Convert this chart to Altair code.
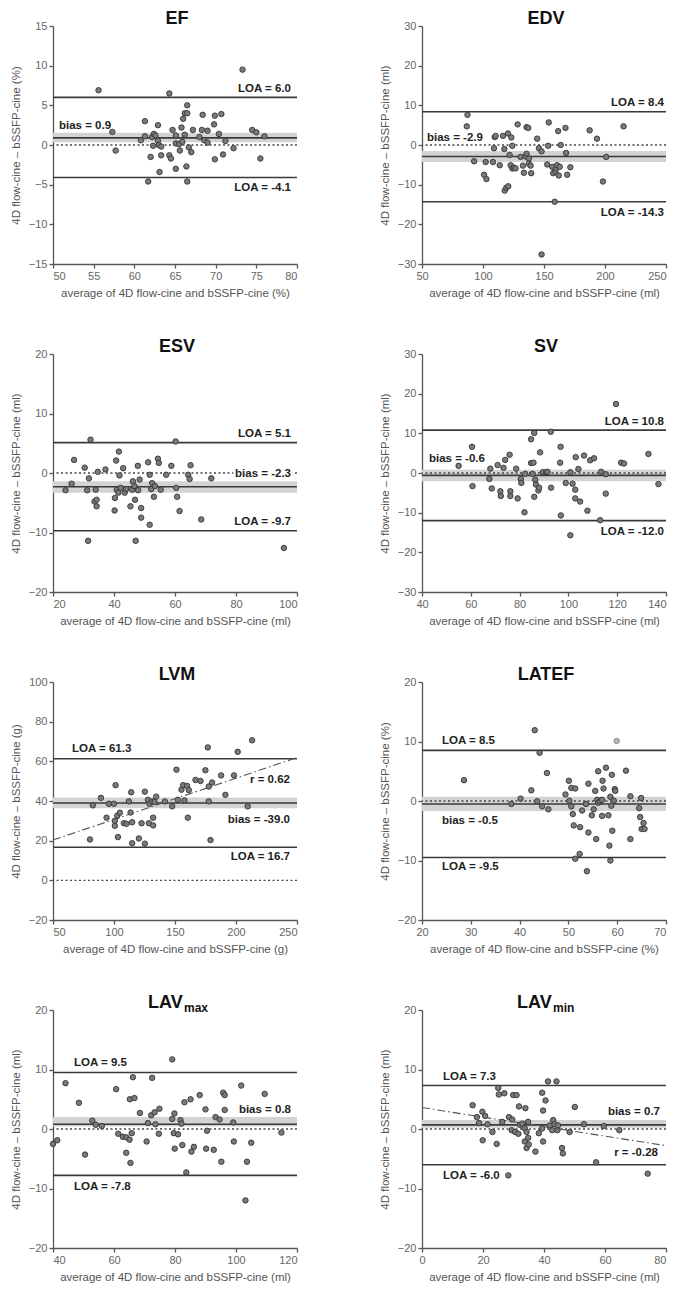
import altair as alt
import pandas as pd

FONT = "Liberation Sans"
W, H = 244, 238

# ---------------- data ----------------
EF_X = [55.6,57.3,57.7,60.8,61.3,61.3,61.7,62.0,62.2,62.4,62.3,62.6,62.9,62.9,63.0,63.1,63.3,63.3,64.3,64.3,
        64.5,64.7,65.1,65.1,65.1,65.5,65.6,65.8,65.9,66.0,66.2,66.2,66.4,66.5,66.5,66.5,66.7,67.0,67.2,68.0,
        68.3,68.4,68.6,69.0,69.0,69.8,69.9,69.9,70.4,70.7,70.9,71.2,72.2,73.3,74.5,75.0,75.5,76.0]
EF_Y = [6.9,1.65,-0.7,0.6,3.0,1.1,-4.6,-1.5,1.0,1.4,-0.1,1.2,2.5,0.55,0.0,-3.4,-1.3,-0.2,6.5,-1.3,
        -1.7,1.9,1.2,0.2,-3.0,0.1,-0.7,2.2,0.4,3.3,4.0,1.3,-2.7,5.0,4.0,-4.6,-0.3,-0.9,1.9,1.0,
        1.9,3.8,0.6,1.8,0.3,2.6,-1.8,3.7,1.4,3.9,-1.2,0.5,-0.4,9.5,1.9,1.6,-1.7,1.1]

EDV_X = [87.3,86.7,92.7,100.9,102.2,102.8,108.2,109.0,109.6,110.4,113.7,116.4,117.5,117.8,119.1,120.5,120.7,121.8,122.7,123.2,
         124.0,124.0,125.4,126.7,128.4,130.8,132.7,133.5,134.9,135.7,135.7,137.1,137.6,137.6,139.0,139.5,144.4,145.8,148.0,148.0,
         152.6,153.4,153.9,156.7,157.5,158.8,159.4,159.9,160.7,161.6,162.1,162.9,163.7,167.6,168.1,169.0,171.6,187.4,193.4,198.3,
         201.0,215.2]
EDV_Y = [7.6,4.7,-4.1,-7.5,-4.3,-8.6,-4.3,-0.8,2.0,2.3,-5.1,2.3,-1.0,-11.5,-10.8,2.9,-10.4,-2.5,-5.1,1.9,
         -0.2,-5.9,-5.7,-5.9,5.2,-3.0,-5.2,-7.0,-2.9,-2.2,4.5,4.3,-3.4,-4.7,-5.2,-7.1,1.6,-0.8,-1.6,-27.6,
         -4.9,-0.2,5.7,-5.5,-7.1,-14.3,-6.7,-5.9,-5.1,3.5,-7.7,-5.5,0.0,4.3,-2.0,-7.5,-5.6,3.7,1.6,-9.2,
         -3.0,4.7]

ESV_X = [24.1,26.1,26.9,30.4,31.2,31.5,31.8,32.3,33.6,34.0,34.3,34.3,34.7,37.2,40.2,40.3,40.7,40.9,41.4,41.6,
         41.8,42.2,43.0,43.5,44.0,45.4,46.0,46.2,46.7,46.9,47.1,47.8,47.9,48.4,48.9,48.9,51.2,51.7,51.7,52.2,
         52.5,53.1,53.4,54.4,54.7,55.3,57.1,58.8,60.2,60.4,60.7,61.5,64.3,64.8,65.1,68.6,71.9,95.7]
ESV_Y = [-2.9,-1.8,2.2,0.9,-2.9,-11.4,-0.9,5.6,-4.8,-2.8,-4.5,-5.6,0.2,0.6,-6.3,-4.2,2.1,-2.8,-3.3,3.6,
         -0.4,-2.5,0.8,-3.3,-2.7,-5.6,-2.8,-1.4,-2.2,-4.5,-11.4,1.2,-2.9,-1.1,-5.9,-7.5,1.8,-0.3,-8.7,-2.7,
         -1.7,-4.0,-2.2,2.4,1.7,-2.8,-0.3,1.2,5.3,-2.5,-4.0,-6.4,-0.3,-1.0,1.3,-7.8,-0.9,-12.6]

SV_X = [55.0,60.5,60.7,67.6,68.0,68.6,71.0,72.1,72.3,73.4,74.1,75.9,76.2,76.2,78.6,79.2,80.5,80.7,82.0,82.3,
        84.7,84.7,85.3,85.7,86.0,86.0,86.4,86.7,87.7,88.0,88.4,89.5,90.9,91.4,92.8,92.9,96.8,96.6,96.9,98.9,
        100.8,100.8,101.7,102.8,102.8,103.0,104.1,104.8,106.4,107.8,108.9,110.5,113.0,113.4,115.3,115.3,119.5,121.6,122.8,132.8,
        136.9]
SV_Y = [1.8,6.6,-3.3,-1.5,1.1,-3.9,2.0,-4.6,-5.8,1.3,3.3,4.6,-4.6,-5.8,1.1,-6.4,-1.5,-2.5,-9.9,-0.2,
        8.5,2.5,-0.2,2.6,10.1,-6.0,-1.7,-2.9,-4.4,-3.7,5.2,0.2,0.2,0.3,10.4,-3.7,6.6,2.6,-10.7,-2.5,
        0.2,-15.7,-2.7,-4.2,-6.4,4.0,1.0,-7.2,4.4,-9.5,3.2,3.7,-11.9,0.3,-0.3,-5.2,17.4,2.6,2.4,4.8,
        -2.8]

LVM_X = [80.3,82.7,89.3,93.9,95.8,99.9,100.7,101.3,100.7,102.7,103.2,104.8,108.1,110.3,112.2,113.6,114.1,114.9,114.9,120.4,
         122.6,125.3,125.3,127.8,128.6,129.1,131.3,132.1,132.1,133.2,134.6,141.7,147.7,151.2,152.3,155.3,156.7,157.8,159.9,160.5,
         161.3,166.8,170.9,174.9,176.9,177.7,177.7,179.1,180.4,187.8,191.3,198.4,201.4,209.6,213.2]
LVM_Y = [20.6,37.8,41.6,31.6,38.6,38.6,27.5,48.0,30.0,32.6,21.8,34.1,28.8,28.5,39.8,34.2,44.4,29.3,18.7,21.1,
         28.8,44.7,18.5,40.6,28.8,38.6,39.8,31.6,27.7,39.5,42.2,39.8,37.3,55.8,40.6,45.7,48.0,40.3,47.6,31.6,
         45.5,50.6,50.1,55.5,67.0,39.8,47.3,20.3,49.3,52.9,43.1,52.9,64.8,37.3,70.6]
LVM_REG_X = [50, 250]
LVM_REG_Y = [20.3, 61.9]

LATEF_X = [28.6,38.3,40.2,42.4,43.1,43.6,44.1,44.6,45.6,45.9,49.4,50.1,50.2,50.6,50.6,50.9,51.4,51.1,51.4,52.3,
           52.4,52.8,53.6,53.8,54.1,54.1,54.8,55.2,55.7,55.5,55.9,56.1,56.1,56.5,56.9,56.9,57.0,57.2,57.7,58.2,
           58.4,58.6,58.6,58.8,58.9,59.0,59.3,59.5,59.6,61.8,62.7,62.7,64.5,64.7,64.9,65.0,65.4,65.6]
LATEF_Y = [3.5,-0.5,0.4,1.8,11.9,-0.05,8.1,-0.9,4.7,-1.4,1.1,3.4,0.05,-0.9,2.2,-2.2,2.1,-4.1,-9.7,-8.9,
           -4.4,-1.6,-0.5,-11.8,-5.3,2.9,-2.4,-1.4,-6.4,1.7,0.2,5.0,-0.3,-0.05,0.2,-2.5,3.4,2.1,5.6,-2.4,
           -7.5,0.7,-10.0,-0.8,4.4,-5.0,0.05,2.0,1.7,5.1,0.8,-6.4,-1.2,-2.7,0.5,-4.7,-3.7,-4.7]
LATEF_LIGHT_X = [59.9]
LATEF_LIGHT_Y = [10.1]

LAVMAX_X = [40.0,41.4,44.1,48.5,50.5,52.9,54.0,56.0,60.7,61.4,62.9,64.0,64.0,65.1,65.2,65.4,65.8,66.2,66.7,68.5,
            70.7,71.1,72.2,72.5,73.3,73.6,74.7,74.9,79.1,79.1,79.6,79.8,79.9,81.0,81.8,82.1,82.4,83.1,83.7,85.1,
            85.4,86.2,88.1,90.0,90.2,90.5,92.7,93.3,94.6,95.2,95.8,96.3,96.3,99.1,99.3,101.7,103.6,103.1,105.0,109.4,
            114.9]
LAVMAX_Y = [-2.5,-1.9,7.7,4.4,-4.3,1.4,0.7,0.5,6.7,-0.8,-1.3,-4.0,-1.4,-1.8,5.0,-5.7,-0.7,8.7,5.2,2.7,
            -2.1,1.0,2.3,8.6,2.8,0.8,-0.8,3.4,11.7,1.7,-0.7,2.6,-3.3,-0.9,1.5,0.9,-2.7,4.5,-7.3,5.0,
            -3.8,-3.0,5.7,3.3,-3.3,-0.3,-3.5,2.0,1.6,-5.5,6.1,5.7,3.2,1.1,-2.1,7.3,-5.5,-12.0,-2.3,5.9,
            -0.6]

LAVMIN_X = [16.6,18.0,18.7,19.8,20.7,21.5,23.1,19.9,24.5,25.0,25.2,27.0,26.3,28.5,29.9,31.0,29.6,29.4,30.5,31.6,
            32.1,31.8,33.9,32.9,33.7,34.3,34.8,33.7,34.8,34.3,35.0,37.2,39.4,40.5,39.7,39.4,38.3,39.7,41.3,44.1,
            41.9,43.0,43.5,44.4,42.7,44.6,45.9,46.2,48.4,50.1,53.1,57.1,59.6,64.7,74.0,28.3]
LAVMIN_Y = [4.0,2.0,1.0,2.9,2.2,0.8,-0.5,-1.9,-2.5,6.9,5.8,6.0,1.2,2.0,5.7,5.7,1.6,-0.2,-0.5,-0.8,
            0.7,3.8,3.5,0.9,0.1,-0.5,1.2,-2.1,-1.5,-3.2,-2.6,-3.8,6.1,4.8,3.1,0.1,-0.7,-2.1,8.0,8.0,
            0.6,1.5,0.8,-0.2,-0.2,0.6,-3.2,-4.1,-0.5,3.7,0.8,-5.6,0.5,-0.2,-7.5,-7.8]
LAVMIN_REG_X = [0, 80]
LAVMIN_REG_Y = [3.6, -2.8]

# statistics: bias, CI band (lo, hi), upper LOA, lower LOA
EF_STATS = [0.9, 0.35, 1.55, 6.0, -4.1]
EDV_STATS = [-2.9, -4.3, -1.5, 8.4, -14.3]
ESV_STATS = [-2.3, -3.3, -1.4, 5.1, -9.7]
SV_STATS = [-0.6, -2.1, 0.8, 10.8, -12.0]
LVM_STATS = [39.0, 36.3, 41.8, 61.3, 16.7]
LATEF_STATS = [-0.5, -1.7, 0.7, 8.5, -9.5]
LAVMAX_STATS = [0.8, 0.4, 2.0, 9.5, -7.8]
LAVMIN_STATS = [0.7, 0.2, 1.5, 7.3, -6.0]

# tick values
EF_XT = [50, 55, 60, 65, 70, 75, 80];      EF_YT = [-15, -10, -5, 0, 5, 10, 15]
EDV_XT = [50, 100, 150, 200, 250];         EDV_YT = [-30, -20, -10, 0, 10, 20, 30]
ESV_XT = [20, 40, 60, 80, 100];            ESV_YT = [-20, -10, 0, 10, 20]
SV_XT = [40, 60, 80, 100, 120, 140];       SV_YT = [-30, -20, -10, 0, 10, 20, 30]
LVM_XT = [50, 100, 150, 200, 250];         LVM_YT = [-20, 0, 20, 40, 60, 80, 100]
LATEF_XT = [20, 30, 40, 50, 60, 70];       LATEF_YT = [-20, -10, 0, 10, 20]
LAVMAX_XT = [40, 60, 80, 100, 120];        LAVMAX_YT = [-20, -10, 0, 10, 20]
LAVMIN_XT = [0, 20, 40, 60, 80];           LAVMIN_YT = [-20, -10, 0, 10, 20]

# annotation texts
EF_LABELS = ["LOA = 6.0", "LOA = -4.1", "bias = 0.9"]
EDV_LABELS = ["LOA = 8.4", "LOA = -14.3", "bias = -2.9"]
ESV_LABELS = ["LOA = 5.1", "bias = -2.3", "LOA = -9.7"]
SV_LABELS = ["LOA = 10.8", "LOA = -12.0", "bias = -0.6"]
LVM_LABELS = ["LOA = 61.3", "r = 0.62", "bias = -39.0", "LOA = 16.7"]
LATEF_LABELS = ["LOA = 8.5", "bias = -0.5", "LOA = -9.5"]
LAVMAX_LABELS = ["LOA = 9.5", "bias = 0.8", "LOA = -7.8"]
LAVMIN_LABELS = ["LOA = 7.3", "bias = 0.7", "r = -0.28", "LOA = -6.0"]

# label placement (side, anchor line index into stats: 0 bias, 3 upper, 4 lower, dy, dx, halo)
EF_POS = [("right", 3, -8, -6, False), ("right", 4, 10, -6, False), ("left", 0, -12, 6, False)]
EDV_POS = [("right", 3, -9, -2, False), ("right", 4, 11, -2, False), ("left", 0, -19, 5, False)]
ESV_POS = [("right", 3, -9, -6, False), ("right", 0, -13, -6, True), ("right", 4, -9, -6, False)]
SV_POS = [("right", 3, -8, -2, False), ("right", 4, 11, -2, False), ("left", 0, -16, 7, False)]
LVM_POS = [("left", 3, -10, 19, False), ("right", 0, -23, -7, False), ("right", 0, 17, -7, False),
           ("right", 4, 10, -7, False)]
LATEF_POS = [("left", 3, -9, 20, False), ("left", 0, 17, 20, False), ("left", 4, 9, 20, False)]
LAVMAX_POS = [("left", 3, -9, 21, False), ("right", 0, -14, -6, False), ("left", 4, 12, 21, False)]
LAVMIN_POS = [("left", 3, -9, 21, False), ("right", 0, -13, -6, False), ("right", 0, 28, -8, False),
              ("left", 4, 11, 21, False)]


def panel(title, sub, unit, xs, ys, xt, yt, stats, labels, pos,
          reg=None, light=None, flush_end=False):
    xdom = [xt[0], xt[-1]]
    ydom = [yt[0], yt[-1]]
    common = dict(grid=False, domainColor="#555555", domainWidth=1.3, tickColor="#555555",
                  tickWidth=1.3, tickSize=4, labelColor="#666666", labelFont=FONT,
                  labelFontSize=11, labelPadding=2, titleFont=FONT, titleFontSize=11.5,
                  titleFontWeight="normal", titleColor="#555555")
    xkw = dict(common)
    if flush_end:
        xkw["labelAlign"] = alt.expr(f"datum.value == {xt[-1]} ? 'right' : 'center'")
    xaxis = alt.Axis(values=xt, title=f"average of 4D flow-cine and bSSFP-cine ({unit})",
                     titlePadding=6, **xkw)
    yaxis = alt.Axis(values=yt, title=f"4D flow-cine \u2013 bSSFP-cine ({unit})",
                     titlePadding=7, **common)
    xsc = alt.Scale(domain=xdom, nice=False, zero=False)
    ysc = alt.Scale(domain=ydom, nice=False, zero=False)

    def X(f):
        return alt.X(f, type="quantitative", scale=xsc, axis=xaxis)

    def Y(f):
        return alt.Y(f, type="quantitative", scale=ysc, axis=yaxis)

    bias, blo, bhi, up, lo = stats
    layers = []
    layers.append(alt.Chart(pd.DataFrame({"lo": [blo], "hi": [bhi]}))
                  .mark_rect(color="#d3d3d3").encode(y=Y("lo"), y2="hi"))
    layers.append(alt.Chart(pd.DataFrame({"y": [0]}))
                  .mark_rule(color="#444444", strokeWidth=1.3, strokeDash=[2, 2.5])
                  .encode(y=Y("y")))
    layers.append(alt.Chart(pd.DataFrame({"y": [bias, up, lo]}))
                  .mark_rule(color="#3a3a3a", strokeWidth=1.6).encode(y=Y("y")))
    if reg is not None:
        layers.append(alt.Chart(pd.DataFrame({"x": reg[0], "y": reg[1]}))
                      .mark_line(color="#555555", strokeWidth=1.1, strokeDash=[8, 3, 1.5, 3])
                      .encode(x=X("x"), y=Y("y")))
    layers.append(alt.Chart(pd.DataFrame({"x": xs, "y": ys}))
                  .mark_circle(size=30, fill="#7a7a7a", stroke="#333333", strokeWidth=0.9, opacity=1)
                  .encode(x=X("x"), y=Y("y")))
    if light is not None:
        layers.append(alt.Chart(pd.DataFrame({"x": light[0], "y": light[1]}))
                      .mark_circle(size=30, fill="#b4b4b4", stroke="#8a8a8a", strokeWidth=0.9, opacity=1)
                      .encode(x=X("x"), y=Y("y")))
    for txt, (side, idx, dy, dx, halo) in zip(labels, pos):
        xv = xdom[1] if side == "right" else xdom[0]
        yv = stats[idx]
        src = pd.DataFrame({"x": [xv], "y": [yv], "t": [txt]})
        if halo:
            layers.append(alt.Chart(src)
                          .mark_text(font=FONT, fontSize=11.5, fontWeight="bold", color="white",
                                     stroke="white", strokeWidth=5, align=side, baseline="middle",
                                     dx=dx, dy=dy)
                          .encode(x=X("x"), y=Y("y"), text="t:N"))
        layers.append(alt.Chart(src)
                      .mark_text(font=FONT, fontSize=11.5, fontWeight="bold", color="#222222",
                                 align=side, baseline="middle", dx=dx, dy=dy)
                      .encode(x=X("x"), y=Y("y"), text="t:N"))
    # panel title
    if sub is None:
        layers.append(alt.Chart(pd.DataFrame({"t": [title]}))
                      .mark_text(font=FONT, fontSize=18, fontWeight="bold", color="#111111",
                                 align="center", baseline="alphabetic")
                      .encode(text="t:N", x=alt.value(W / 2 + 2), y=alt.value(-2)))
    else:
        layers.append(alt.Chart(pd.DataFrame({"t": [title]}))
                      .mark_text(font=FONT, fontSize=18, fontWeight="bold", color="#111111",
                                 align="left", baseline="alphabetic")
                      .encode(text="t:N", x=alt.value(95), y=alt.value(-2)))
        layers.append(alt.Chart(pd.DataFrame({"t": [sub]}))
                      .mark_text(font=FONT, fontSize=12, fontWeight="bold", color="#111111",
                                 align="left", baseline="alphabetic")
                      .encode(text="t:N", x=alt.value(131), y=alt.value(2)))
    return alt.layer(*layers).properties(width=W, height=H)


p_ef = panel("EF", None, "%", EF_X, EF_Y, EF_XT, EF_YT, EF_STATS, EF_LABELS, EF_POS)
p_edv = panel("EDV", None, "ml", EDV_X, EDV_Y, EDV_XT, EDV_YT, EDV_STATS, EDV_LABELS, EDV_POS, flush_end=True)
p_esv = panel("ESV", None, "ml", ESV_X, ESV_Y, ESV_XT, ESV_YT, ESV_STATS, ESV_LABELS, ESV_POS)
p_sv = panel("SV", None, "ml", SV_X, SV_Y, SV_XT, SV_YT, SV_STATS, SV_LABELS, SV_POS, flush_end=True)
p_lvm = panel("LVM", None, "g", LVM_X, LVM_Y, LVM_XT, LVM_YT, LVM_STATS, LVM_LABELS, LVM_POS,
              reg=(LVM_REG_X, LVM_REG_Y))
p_latef = panel("LATEF", None, "%", LATEF_X, LATEF_Y, LATEF_XT, LATEF_YT, LATEF_STATS, LATEF_LABELS,
                LATEF_POS, light=(LATEF_LIGHT_X, LATEF_LIGHT_Y), flush_end=True)
p_lavmax = panel("LAV", "max", "ml", LAVMAX_X, LAVMAX_Y, LAVMAX_XT, LAVMAX_YT, LAVMAX_STATS,
                 LAVMAX_LABELS, LAVMAX_POS)
p_lavmin = panel("LAV", "min", "ml", LAVMIN_X, LAVMIN_Y, LAVMIN_XT, LAVMIN_YT, LAVMIN_STATS,
                 LAVMIN_LABELS, LAVMIN_POS, reg=(LAVMIN_REG_X, LAVMIN_REG_Y), flush_end=True)

chart = (alt.concat(p_ef, p_edv, p_esv, p_sv, p_lvm, p_latef, p_lavmax, p_lavmin,
                    columns=2, spacing={"row": 90, "column": 125}, bounds="flush")
         .properties(padding={"left": 2, "top": 2, "right": 0, "bottom": 2}, background="white")
         .configure_view(stroke=None))

chart.save("out.html", embed_options={"renderer": "svg", "actions": False})
